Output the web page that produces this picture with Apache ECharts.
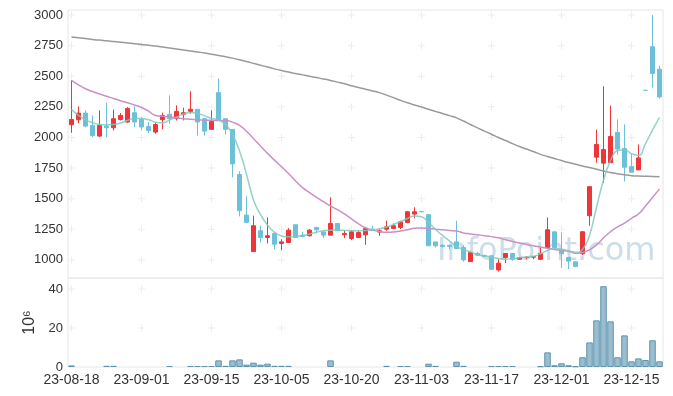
<!DOCTYPE html>
<html><head><meta charset="utf-8">
<script src="https://cdn.jsdelivr.net/npm/echarts@6/dist/echarts.min.js"></script>
<style>html,body{margin:0;padding:0;background:#fff}#c{width:673px;height:396px}</style>
</head><body><div id="c"></div>
<script>
const dates = ['23-08-18','23-08-21','23-08-22','23-08-23','23-08-24','23-08-25','23-08-28','23-08-29','23-08-30','23-08-31',
'23-09-01','23-09-04','23-09-05','23-09-06','23-09-07','23-09-08','23-09-11','23-09-12','23-09-13','23-09-14',
'23-09-15','23-09-18','23-09-19','23-09-20','23-09-21','23-09-22','23-09-25','23-09-26','23-09-27','23-10-04',
'23-10-05','23-10-06','23-10-10','23-10-11','23-10-12','23-10-13','23-10-16','23-10-17','23-10-18','23-10-19',
'23-10-20','23-10-23','23-10-24','23-10-25','23-10-26','23-10-27','23-10-30','23-10-31','23-11-01','23-11-02',
'23-11-03','23-11-06','23-11-07','23-11-08','23-11-09','23-11-10','23-11-13','23-11-14','23-11-15','23-11-16',
'23-11-17','23-11-20','23-11-21','23-11-22','23-11-23','23-11-24','23-11-27','23-11-28','23-11-29','23-11-30',
'23-12-01','23-12-04','23-12-05','23-12-06','23-12-07','23-12-08','23-12-11','23-12-12','23-12-13','23-12-14',
'23-12-15','23-12-18','23-12-19','23-12-20','23-12-21'];

// [open, close, low, high]
const ohlc = [
[2104,2147,2038,2467],[2145,2199,2117,2254],[2199,2093,2084,2221],[2098,2016,2003,2180],[2011,2098,2003,2221],
[2093,2079,2003,2284],[2079,2153,2057,2227],[2147,2180,2139,2199],[2126,2237,2120,2248],[2202,2126,2085,2254],
[2147,2085,2057,2166],[2090,2057,2035,2125],[2044,2106,2030,2125],[2145,2180,2066,2202],[2189,2153,2112,2344],
[2153,2213,2139,2262],[2189,2202,2139,2243],[2213,2230,2194,2377],[2230,2126,2016,2230],[2153,2052,2016,2153],
[2066,2131,2066,2221],[2366,2145,2139,2481],[2153,2066,2025,2153],[2066,1784,1675,2066],[1697,1402,1355,1724],
[1366,1306,1306,1519],[1068,1279,1068,1361],[1238,1183,1142,1279],[1183,1197,1134,1347],[1216,1128,1087,1216],
[1134,1147,1079,1169],[1142,1243,1142,1259],[1287,1183,1183,1287],[1202,1191,1183,1230],[1197,1243,1191,1251],
[1265,1246,1216,1270],[1229,1202,1178,1229],[1202,1298,1202,1511],[1298,1238,1238,1298],[1205,1216,1178,1238],
[1175,1229,1161,1243],[1183,1224,1183,1238],[1205,1257,1123,1257],[1251,1243,1240,1279],[1227,1238,1197,1251],
[1251,1270,1238,1320],[1257,1279,1251,1298],[1265,1311,1251,1320],[1306,1393,1300,1400],[1374,1393,1339,1429],
[1396,1393,1390,1398],[1369,1115,1115,1374],[1147,1115,1101,1147],[1120,1109,1101,1125],[1118,1109,1087,1125],
[1147,1093,1093,1320],[1101,1000,986,1120],[986,1060,984,1066],[1052,1038,1033,1066],[1036,1030,1025,1042],
[1033,923,918,1038],[918,973,904,1005],[1019,1052,973,1052],[1052,1005,992,1052],[1005,1019,1000,1025],
[1019,1022,1005,1030],[1022,1027,1005,1030],[1005,1052,1000,1101],[1101,1246,1093,1347],[1229,1101,1093,1229],
[1074,1050,935,1224],[1019,990,924,1025],[984,946,940,990],[1050,1230,1040,1235],[1361,1598,1279,1598],
[1839,1943,1793,2063],[1790,1902,1629,2418],[1793,2008,1793,2260],[2041,1905,1858,2148],[1910,1757,1640,2107],
[1762,1716,1716,1866],[1735,1833,1735,1943],[2385,2385,2385,2385],[2741,2522,2407,3000],[2557,2331,2317,2585]];

const volume = [0.8,0,0,0,0,0.6,0.6,0,0,0,
0,0,0,0,0.5,0,0,0.5,0.5,0.5,
0.5,3.4,0.6,3.4,3.9,1.2,2.2,1.2,1.7,0.6,
0.6,0.6,0,0,0,0,0,3.4,0,0,
0,0,0,0,0,0.6,0,0.5,0.5,0,
0,1.7,0.6,0,0,2.7,0.6,0,0,0,
0.5,0.5,0.5,0.5,0,0,0,0.4,7.5,0.9,
1.9,0.9,0.4,5.0,12.6,23.9,41.4,23.4,5.0,16.2,
2.9,4.4,3.6,13.7,2.9];

const ma5 = [2227,2180,2145,2120,2106,2104,2105,2118,2138,2155,
2155,2145,2125,2120,2142,2166,2192,2203,2196,2178,
2155,2142,2105,2025,1890,1700,1490,1370,1285,1225,
1195,1188,1190,1198,1212,1226,1238,1243,1243,1241,
1238,1238,1240,1244,1255,1268,1288,1312,1338,1358,
1352,1305,1248,1200,1155,1110,1085,1065,1042,1032,
1022,1012,1006,1010,1018,1024,1030,1050,1078,1093,
1088,1075,1062,1085,1200,1430,1650,1810,1893,1900,
1868,1853,1950,2060,2165];

const ma20 = [2467,2430,2398,2375,2355,2337,2318,2300,2283,2265,
2245,2215,2180,2173,2167,2160,2153,2149,2145,2142,
2140,2139,2138,2125,2098,2050,1990,1930,1870,1815,
1760,1705,1645,1590,1550,1511,1475,1440,1410,1375,
1335,1295,1262,1243,1232,1225,1228,1236,1247,1258,
1260,1257,1251,1246,1240,1236,1220,1212,1205,1198,
1190,1180,1165,1150,1138,1126,1115,1105,1095,1085,
1078,1070,1055,1060,1082,1122,1180,1230,1270,1300,
1340,1375,1440,1510,1580];

const ma120 = [2820,2814,2808,2801,2795,2790,2784,2778,2772,2766,
2760,2754,2746,2738,2730,2722,2714,2706,2698,2690,
2680,2670,2660,2648,2634,2620,2605,2590,2575,2560,
2546,2534,2522,2511,2500,2489,2478,2466,2452,2438,
2423,2408,2394,2380,2366,2346,2325,2303,2283,2265,
2248,2230,2213,2196,2178,2160,2134,2106,2078,2052,
2026,2000,1975,1950,1926,1905,1885,1862,1845,1828,
1811,1795,1781,1767,1754,1740,1726,1713,1704,1695,
1688,1685,1683,1681,1680];

const priceTicks = [1000,1250,1500,1750,2000,2250,2500,2750,3000];
const volTicks = [0,20,40];
const xTickIdx = [0,10,20,30,40,50,60,70,80];

const UP = '#ee3537', DOWN = '#6cc1d9';
const candleData = ohlc.map(d => d[0] === d[1] ? {value: d, itemStyle: {color: DOWN, borderColor: DOWN}} : d);
const volData = volume.map(v => v > 0 ? v : '-');
const crossMain = [];
xTickIdx.forEach(i => priceTicks.forEach(v => crossMain.push([i, v])));
const crossVol = [];
xTickIdx.forEach(i => volTicks.slice(1).forEach(v => crossVol.push([i, v])));
const plus = 'path://M3,0H4V7H3ZM0,3H7V4H0Z';
const font = '"Liberation Sans", Arial, sans-serif';

const chart = echarts.init(document.getElementById('c'));
chart.setOption({
  animation: false,
  backgroundColor: '#fff',
  graphic: [{type: 'text', left: 437, top: 236, z: 0, silent: true,
    style: {text: 'InfoPoint.com', font: '32px "DejaVu Sans"', fill: 'rgba(140,182,206,0.45)'}}],
  grid: [
    {left: 68, top: 10, width: 595, height: 268, show: true, borderColor: '#e6e6e6', borderWidth: 1},
    {left: 68, top: 278, width: 595, height: 89, show: true, borderColor: '#e6e6e6', borderWidth: 1}
  ],
  xAxis: [
    {type: 'category', gridIndex: 0, data: dates, boundaryGap: true, axisLabel: {show: false}, axisTick: {show: false}, axisLine: {show: false}, splitLine: {show: false}},
    {type: 'category', gridIndex: 1, data: dates, boundaryGap: true, axisTick: {show: false}, axisLine: {show: false}, splitLine: {show: false},
     axisLabel: {interval: 9, fontSize: 14, color: '#333', margin: 6, fontFamily: font}}
  ],
  yAxis: [
    {type: 'value', gridIndex: 0, min: 852, max: 3041, axisLine: {show: false}, axisTick: {show: false}, splitLine: {show: false},
     axisLabel: {customValues: priceTicks, formatter: v => String(v), fontSize: 13, color: '#333', margin: 5, fontFamily: font}},
    {type: 'value', gridIndex: 1, min: 0, max: 45.6, axisLine: {show: false}, axisTick: {show: false}, splitLine: {show: false},
     axisLabel: {customValues: volTicks, formatter: v => String(v), fontSize: 13, color: '#333', margin: 5, fontFamily: font},
     name: '10\u2076', nameLocation: 'middle', nameRotate: 90, nameGap: 26, nameTextStyle: {fontSize: 16, color: '#333', fontFamily: font}}
  ],
  series: [
    {type: 'scatter', xAxisIndex: 0, yAxisIndex: 0, data: crossMain, symbol: plus, symbolSize: 7, itemStyle: {color: '#e8e8e8'}, silent: true, z: 1},
    {type: 'scatter', xAxisIndex: 1, yAxisIndex: 1, data: crossVol, symbol: plus, symbolSize: 7, itemStyle: {color: '#e8e8e8'}, silent: true, z: 1},
    {type: 'candlestick', xAxisIndex: 0, yAxisIndex: 0, data: candleData, barWidth: 5,
     itemStyle: {color: UP, color0: DOWN, borderColor: UP, borderColor0: DOWN, borderWidth: 1}, z: 3},
    {type: 'line', xAxisIndex: 0, yAxisIndex: 0, data: ma120, symbol: 'none', smooth: true, lineStyle: {color: '#9a9a9a', width: 1.5}, z: 4},
    {type: 'line', xAxisIndex: 0, yAxisIndex: 0, data: ma20, symbol: 'none', smooth: true, lineStyle: {color: '#cc90c6', width: 1.5}, z: 4},
    {type: 'line', xAxisIndex: 0, yAxisIndex: 0, data: ma5, symbol: 'none', smooth: true, lineStyle: {color: '#80c9bf', width: 1.5, opacity: 0.85}, z: 4},
    {type: 'bar', xAxisIndex: 1, yAxisIndex: 1, data: volData, barWidth: 6.5,
     itemStyle: {color: 'rgba(120,168,192,0.75)', borderColor: '#5d93ad', borderWidth: 1}, z: 3}
  ]
});
</script></body></html>
